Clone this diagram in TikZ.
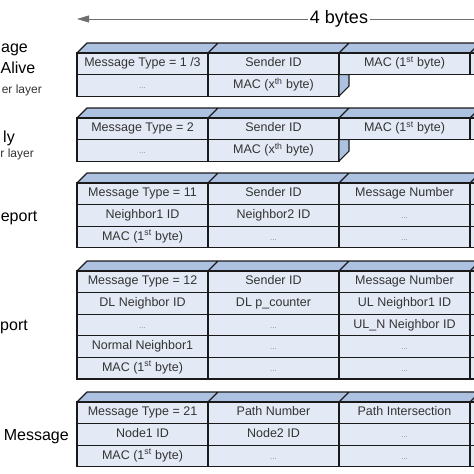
\documentclass[tikz,border=0pt]{standalone}
\usepackage{fontspec}
\setmainfont{Liberation Sans}
\usetikzlibrary{arrows.meta}
\definecolor{cellc}{HTML}{E3EAF5}
\definecolor{topc}{HTML}{ADC2E0}
\definecolor{linec}{HTML}{1A1A1A}
\definecolor{txtc}{HTML}{333333}
\definecolor{dotc}{HTML}{8A8A8A}
\definecolor{arrc}{HTML}{6E6E6E}
\tikzset{
  cell/.style={draw=linec,fill=cellc,line width=1.3pt,minimum width=131pt,
    minimum height=21.6pt,inner sep=0pt,outer sep=0pt,anchor=north west,
    text height=9pt,text depth=3pt,
    text=txtc,font=\fontsize{12.5}{14}\selectfont},
  gap/.style={cell,text=dotc,font=\fontsize{8}{9}\selectfont},
  face/.style={draw=linec,fill=topc,line width=1.1pt,line join=round},
  lbl/.style={anchor=base east,inner sep=0pt,text=black,
    font=\fontsize{16}{18}\selectfont},
  sublbl/.style={lbl,text=txtc,font=\fontsize{12}{14}\selectfont},
}
\begin{document}
\begin{tikzpicture}[x=1pt,y=-1pt]
\useasboundingbox (0,0) rectangle (474,474);
\clip (0,0) rectangle (474,474);
% width arrow
\node[fill=white,inner sep=2pt,font=\fontsize{18}{20}\selectfont] (bytes) at (339,19) {4 bytes};
\coordinate (bl) at (77,19);
\coordinate (br) at (500,19);
\draw[arrc,line width=.8pt,-{Triangle[length=12pt,width=7pt]}] (bytes) -- (bl);
\draw[arrc,line width=.8pt] (bytes) -- (br);
% left labels
\node[lbl] (m1a) at (28,52) {age};
\node[lbl] (m1b) at (35.5,73) {Alive};
\node[sublbl] (m1c) at (42,93) {er layer};
\node[lbl] (m2a) at (15,142) {ly};
\node[sublbl] (m2b) at (34,157) {r layer};
\node[lbl] (m3) at (37.5,221) {eport};
\node[lbl] (m4) at (28,330) {port};
\node[lbl] (m5) at (69,440) {Message};
% top faces
\draw[face] (77,53) -- ++(10,-10) -- ++(524,0) -- ++(-10,10) -- cycle
  (208,53) -- ++(10,-10) (339,53) -- ++(10,-10) (470,53) -- ++(10,-10);
\draw[face] (77,118) -- ++(10,-10) -- ++(524,0) -- ++(-10,10) -- cycle
  (208,118) -- ++(10,-10) (339,118) -- ++(10,-10) (470,118) -- ++(10,-10);
\draw[face] (77,183) -- ++(10,-10) -- ++(524,0) -- ++(-10,10) -- cycle
  (208,183) -- ++(10,-10) (339,183) -- ++(10,-10) (470,183) -- ++(10,-10);
\draw[face] (77,271) -- ++(10,-10) -- ++(524,0) -- ++(-10,10) -- cycle
  (208,271) -- ++(10,-10) (339,271) -- ++(10,-10) (470,271) -- ++(10,-10);
\draw[face] (77,402) -- ++(10,-10) -- ++(524,0) -- ++(-10,10) -- cycle
  (208,402) -- ++(10,-10) (339,402) -- ++(10,-10) (470,402) -- ++(10,-10);
% keep alive
\path
(77,53) node[cell] (a1) {Message Type = 1 /3}
++(131,0) node[cell] (a2) {Sender ID}
++(131,0) node[cell] (a3) {MAC (1\textsuperscript{st} byte)}
++(131,0) node[cell] (a4) {}
(77,74.6) node[gap] (a5) {...}
++(131,0) node[cell] (a6) {MAC (x\textsuperscript{th} byte)};
\draw[face] (a6.north east) -- ++(10,0) -- ++(0,11.6) -- (a6.south east) -- cycle;
% reply
\path
(77,118) node[cell] (b1) {Message Type = 2}
++(131,0) node[cell] (b2) {Sender ID}
++(131,0) node[cell] (b3) {MAC (1\textsuperscript{st} byte)}
++(131,0) node[cell] (b4) {}
(77,139.6) node[gap] (b5) {...}
++(131,0) node[cell] (b6) {MAC (x\textsuperscript{th} byte)};
\draw[face] (b6.north east) -- ++(10,0) -- ++(0,11.6) -- (b6.south east) -- cycle;
% report
\path
(77,183) node[cell] (c1) {Message Type = 11}
++(131,0) node[cell] (c2) {Sender ID}
++(131,0) node[cell] (c3) {Message Number}
++(131,0) node[cell] (c4) {}
(77,204.6) node[cell] (c5) {Neighbor1 ID}
++(131,0) node[cell] (c6) {Neighbor2 ID}
++(131,0) node[gap] (c7) {...}
++(131,0) node[cell] (c8) {}
(77,226.2) node[cell] (c9) {MAC (1\textsuperscript{st} byte)}
++(131,0) node[gap] (c10) {...}
++(131,0) node[gap] (c11) {...}
++(131,0) node[cell] (c12) {};
% second report
\path
(77,271) node[cell] (d1) {Message Type = 12}
++(131,0) node[cell] (d2) {Sender ID}
++(131,0) node[cell] (d3) {Message Number}
++(131,0) node[cell] (d4) {}
(77,292.6) node[cell] (d5) {DL Neighbor ID}
++(131,0) node[cell] (d6) {DL p\_counter}
++(131,0) node[cell] (d7) {UL Neighbor1 ID}
++(131,0) node[cell] (d8) {}
(77,314.2) node[gap] (d9) {...}
++(131,0) node[gap] (d10) {...}
++(131,0) node[cell] (d11) {UL\_N Neighbor ID}
++(131,0) node[cell] (d12) {}
(77,335.8) node[cell] (d13) {Normal Neighbor1}
++(131,0) node[gap] (d14) {...}
++(131,0) node[gap] (d15) {...}
++(131,0) node[cell] (d16) {}
(77,357.4) node[cell] (d17) {MAC (1\textsuperscript{st} byte)}
++(131,0) node[gap] (d18) {...}
++(131,0) node[gap] (d19) {...}
++(131,0) node[cell] (d20) {};
% path message
\path
(77,402) node[cell] (e1) {Message Type = 21}
++(131,0) node[cell] (e2) {Path Number}
++(131,0) node[cell] (e3) {Path Intersection}
++(131,0) node[cell] (e4) {}
(77,423.6) node[cell] (e5) {Node1 ID}
++(131,0) node[cell] (e6) {Node2 ID}
++(131,0) node[gap] (e7) {...}
++(131,0) node[cell] (e8) {}
(77,445.2) node[cell] (e9) {MAC (1\textsuperscript{st} byte)}
++(131,0) node[gap] (e10) {...}
++(131,0) node[gap] (e11) {...}
++(131,0) node[cell] (e12) {};
\end{tikzpicture}
\end{document}
